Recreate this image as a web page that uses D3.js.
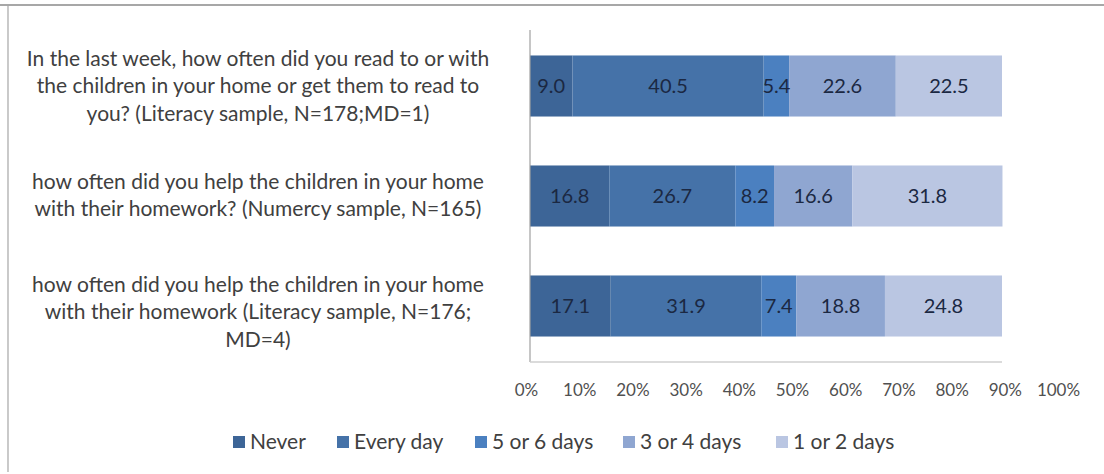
<!DOCTYPE html>
<html>
<head>
<meta charset="utf-8">
<script src="https://cdn.jsdelivr.net/npm/d3@7"></script>
<style>
  html, body { margin: 0; padding: 0; background: #fff; }
  svg { display: block; font-family: Lato, "Open Sans", sans-serif; }
</style>
</head>
<body>
<svg id="chart" width="1104" height="474"></svg>
<script>
// Question labels (one array of lines per bar)
const questions = [
  ["In the last week, how often did you read to or with", "the children in your home or get them to read to", "you? (Literacy sample, N=178;MD=1)"],
  ["how often did you help the children in your home", "with their homework? (Numercy sample, N=165)"],
  ["how often did you help the children in your home", "with their homework  (Literacy sample, N=176;", "MD=4)"]
];
const questionKeys = ["q1", "q2", "q3"];

// Response categories and their percentages per question
const seriesNames = ["Never", "Every day", "5 or 6 days", "3 or 4 days", "1 or 2 days"];
const never       = [9.0, 16.8, 17.1];
const everyDay    = [40.5, 26.7, 31.9];
const fiveOrSix   = [5.4, 8.2, 7.4];
const threeOrFour = [22.6, 16.6, 18.8];
const oneOrTwo    = [22.5, 31.8, 24.8];
const seriesValues = [never, everyDay, fiveOrSix, threeOrFour, oneOrTwo];

const tickValues = [0, 10, 20, 30, 40, 50, 60, 70, 80, 90, 100];
const colors = ["#3d6597", "#4572a8", "#4b80c0", "#8fa6d1", "#bac6e2"];

const rows = questionKeys.map((k, i) => {
  const r = { key: k };
  seriesNames.forEach((s, j) => r[s] = seriesValues[j][i]);
  return r;
});

const svg = d3.select("#chart");

// Outer frame
svg.append("line").attr("x1", 0).attr("x2", 1104).attr("y1", 5).attr("y2", 5)
  .attr("stroke", "#8a8a8a").attr("stroke-width", 1.5);
svg.append("line").attr("x1", 8).attr("x2", 8).attr("y1", 5).attr("y2", 472)
  .attr("stroke", "#a6a6a6").attr("stroke-width", 1.2);

// Bar scale and the (wider) percentage label scale underneath
const x = d3.scaleLinear().domain([0, 100]).range([530, 1002]);
const xLabels = d3.scaleLinear().domain([0, 100]).range([526, 1058]);
const y = d3.scaleBand().domain(questionKeys).range([31, 361]).paddingInner(0.445).paddingOuter(0.2225);

const layers = d3.stack().keys(seriesNames)(rows);

const barG = svg.append("g");
const valG = svg.append("g");
layers.forEach((layer, li) => {
  barG.append("g").attr("fill", colors[li])
    .selectAll("rect").data(layer).join("rect")
    .attr("x", d => x(d[0]))
    .attr("width", d => x(d[1]) - x(d[0]))
    .attr("y", d => y(d.data.key))
    .attr("height", y.bandwidth());
  valG.append("g").selectAll("text").data(layer).join("text")
    .attr("x", d => (x(d[0]) + x(d[1])) / 2)
    .attr("y", d => y(d.data.key) + y.bandwidth() / 2)
    .attr("dy", "0.36em")
    .attr("text-anchor", "middle")
    .attr("font-size", 20)
    .attr("fill", "#1b2842")
    .text(d => d3.format(".1f")(d.data[layer.key]));
});

// Value axis line (left) and bottom axis
svg.append("line").attr("x1", 530).attr("x2", 530).attr("y1", 30).attr("y2", 362)
  .attr("stroke", "#a0a0a0").attr("stroke-width", 1.2);
svg.append("line").attr("x1", x(0)).attr("x2", x(100)).attr("y1", 362).attr("y2", 362)
  .attr("stroke", "#cfcfcf").attr("stroke-width", 1.5);
const xAxis = d3.axisBottom(xLabels).tickValues(tickValues).tickFormat(d => d + "%").tickSize(0).tickPadding(22);
const ax = svg.append("g").attr("transform", "translate(0,362)").call(xAxis);
ax.select(".domain").remove();
ax.selectAll("text").attr("font-size", 17).attr("fill", "#505050")
  .attr("font-family", "Lato, 'Open Sans', sans-serif");

// Question labels
const labelShift = [0, -1, 6];
questions.forEach((lines, i) => {
  const cy = y(questionKeys[i]) + y.bandwidth() / 2 + labelShift[i];
  const lh = 27.5;
  const t = svg.append("text").attr("text-anchor", "middle").attr("font-size", 21).attr("fill", "#404040");
  lines.forEach((ln, k) => {
    t.append("tspan").attr("x", 258)
      .attr("y", cy + (k - (lines.length - 1) / 2) * lh)
      .attr("dy", "0.35em").text(ln);
  });
});

// Legend
const legendX = [233, 337, 475, 623, 776];
const lgd = svg.append("g");
seriesNames.forEach((s, i) => {
  lgd.append("rect").attr("x", legendX[i]).attr("y", 436).attr("width", 12).attr("height", 12).attr("fill", colors[i]);
  lgd.append("text").attr("x", legendX[i] + 17).attr("y", 442).attr("dy", "0.35em")
    .attr("font-size", 21).attr("fill", "#404040").text(s);
});
</script>
</body>
</html>
